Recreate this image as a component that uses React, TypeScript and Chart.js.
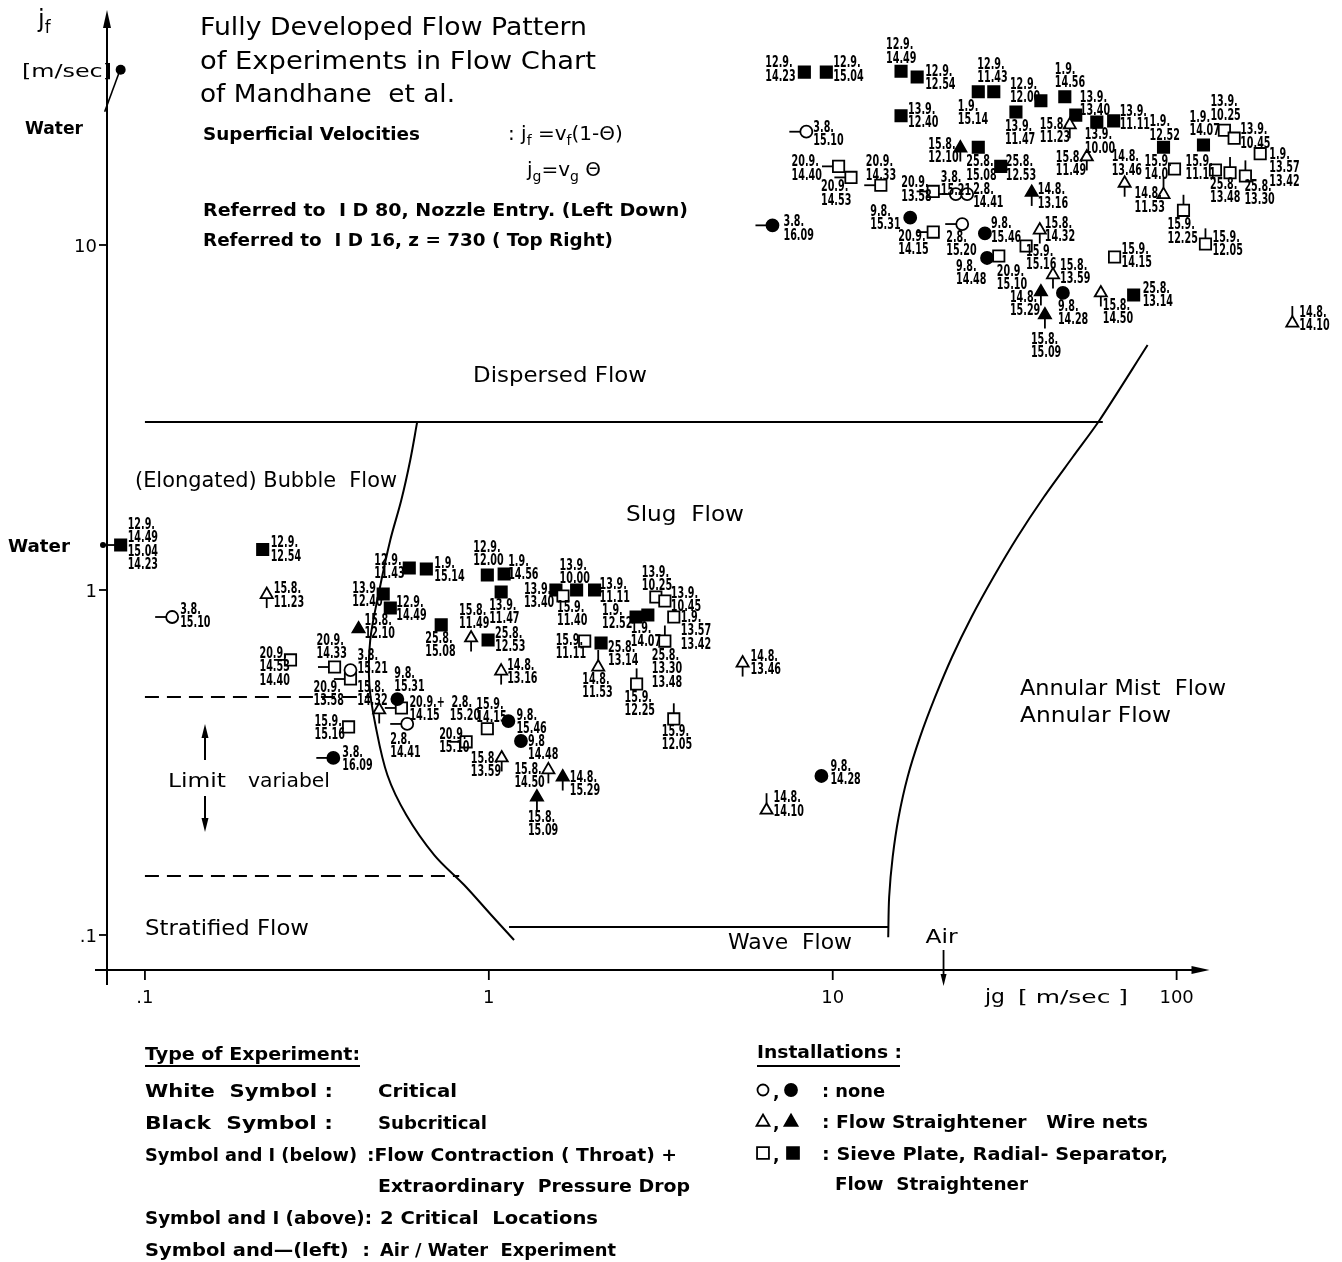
import React, { useEffect, useRef } from 'react';
import { Chart, registerables } from 'chart.js';

Chart.register(...registerables);

// ---------- Lower-left group: ID 80, nozzle entry ----------
const jgLower = [0.085, 0.22, 0.226, 0.12, 0.265, 0.356, 0.396, 0.396, 0.418, 0.48, 0.542, 0.557, 0.579, 0.859, 0.99, 1.14, 1.24, 1.09, 1.49, 1.64, 1.38, 0.353, 0.391, 0.587, 0.658, 0.493, 0.517, 0.727, 0.888, 0.995, 0.99, 1.108, 1.086, 1.086, 1.567, 1.643, 1.8, 2.03, 1.9, 2.12, 2.08, 2.68, 2.9, 3.06, 3.25, 3.45, 3.25, 2.69, 3.45, 5.47, 9.27, 6.42];
const jfLower = [1.35, 1.31, 0.97, 0.835, 0.627, 0.598, 0.586, 0.552, 0.771, 0.449, 0.483, 0.455, 0.409, 0.363, 0.396, 0.417, 0.365, 0.326, 0.301, 0.287, 0.251, 0.326, 0.401, 1.158, 1.15, 0.974, 0.887, 0.792, 0.726, 0.716, 1.105, 1.113, 0.987, 0.582, 1.0, 0.961, 1.0, 1.0, 0.711, 0.702, 0.598, 0.835, 0.846, 0.954, 0.929, 0.835, 0.711, 0.534, 0.423, 0.614, 0.289, 0.23];
const symLower = ['sf', 'sf', 'to', 'co', 'so', 'so', 'co', 'so', 'tf', 'to', 'cf', 'so', 'co', 'so', 'so', 'cf', 'cf', 'to', 'to', 'tf', 'tf', 'cf', 'so', 'sf', 'sf', 'sf', 'sf', 'sf', 'to', 'sf', 'sf', 'sf', 'sf', 'to', 'sf', 'so', 'sf', 'sf', 'so', 'sf', 'to', 'sf', 'sf', 'so', 'so', 'so', 'so', 'so', 'so', 'to', 'cf', 'to'];
const markLower = ['w', '', 'd', 'l', 'l', 'l', '', 'l', '', 'd', '', 'l', 'l', 'l', '', '', '', 'd', 'd', 'd', 'd', 'l', '', '', '', '', '', '', 'd', '', '', '', '', 'd', '', '', '', '', '', '', 'u', '', '', '', '', '', 'u', 'u', 'u', 'd', '', 'u'];
const labelLower = ['12.9.|14.49|15.04|14.23', '12.9.|12.54', '15.8.|11.23', '3.8.|15.10', '20.9.|14.53|14.40', '20.9.|14.33', '3.8.|15.21', '20.9.|13.58', '15.8.|12.10', '15.8.|14.32', '9.8.|15.31', '20.9.+  2.8.|14.15   15.20', '2.8.|14.41', '20.9.|15.10', '15.9.|14.15', '9.8.|15.46', '9.8|14.48', '15.8.|13.59', '15.8.|14.50', '14.8.|15.29', '15.8.|15.09', '3.8.|16.09', '15.9.|15.16', '12.9.|11.43', '1.9.|15.14', '13.9.|12.40', '12.9.|14.49', '25.8.|15.08', '15.8.|11.49', '25.8.|12.53', '12.9.|12.00', '1.9.|14.56', '13.9.|11.47', '14.8.|13.16', '13.9.|13.40', '15.9.|11.40', '13.9.|10.00', '13.9.|11.11', '15.9.|11.11', '25.8.|13.14', '14.8.|11.53', '1.9.|12.52', '1.9.|14.07', '13.9.|10.25', '13.9.|10.45', '1.9.|13.57|13.42', '25.8.|13.30|13.48', '15.9.|12.25', '15.9.|12.05', '14.8.|13.46', '9.8.|14.28', '14.8.|14.10'];

// ---------- Top-right group: ID 16, z = 730 ----------
const jgUpper = [8.27, 9.58, 15.8, 17.6, 15.8, 26.5, 29.4, 34.1, 40.3, 8.38, 23.5, 26.5, 30.8, 10.4, 11.3, 13.8, 19.6, 22.8, 24.6, 37.9, 47.3, 50.9, 48.9, 58.6, 65.6, 54.8, 91.6, 119.7, 137.7, 147, 175, 98.6, 91.6, 129.7, 143, 158.5, 70.6, 104.7, 121.3, 40.0, 66.0, 43.7, 46.7, 40.3, 41.4, 60.2, 75.0, 217, 6.68, 16.8, 19.6, 23.8, 27.7, 28.1, 30.4, 36.5];
const jfUpper = [31.7, 31.7, 31.9, 30.7, 23.7, 27.8, 27.8, 24.3, 26.2, 21.3, 19.1, 19.2, 16.9, 16.9, 15.7, 14.9, 14.3, 14.05, 14.05, 14.2, 26.9, 23.8, 22.3, 22.7, 22.9, 18.0, 19.2, 19.5, 21.5, 20.4, 18.4, 16.6, 14.0, 16.5, 16.2, 15.85, 15.1, 12.6, 10.07, 11.05, 9.23, 8.19, 7.26, 7.31, 6.27, 7.26, 7.16, 5.94, 11.4, 12.0, 10.9, 11.5, 10.8, 9.17, 9.29, 9.93];
const symUpper = ['sf', 'sf', 'sf', 'sf', 'sf', 'sf', 'sf', 'sf', 'sf', 'co', 'tf', 'sf', 'sf', 'so', 'so', 'so', 'so', 'co', 'co', 'tf', 'sf', 'sf', 'to', 'sf', 'sf', 'to', 'sf', 'sf', 'so', 'so', 'so', 'so', 'to', 'so', 'so', 'so', 'to', 'so', 'so', 'to', 'so', 'to', 'cf', 'tf', 'tf', 'to', 'sf', 'to', 'cf', 'cf', 'so', 'co', 'cf', 'cf', 'so', 'so'];
const markUpper = ['', '', '', '', '', '', '', '', '', 'l', 'd', '', '', 'l', 'l', 'l', 'l', 'l', '', 'd', '', '', 'd', '', '', 'd', '', '', '', '', '', '', 'u', '', 'u', 'u', 'd', 'u', 'u', 'd', '', 'd', '', 'd', 'd', 'd', '', 'u', 'l', '', 'l', 'l', '', '', '', ''];
const labelUpper = ['12.9.|14.23', '12.9.|15.04', '12.9.|14.49', '12.9.|12.54', '13.9.|12.40', '12.9.|11.43', '1.9.|15.14', '13.9.|11.47', '12.9.|12.00', '3.8.|15.10', '15.8.|12.10', '25.8.|15.08', '25.8.|12.53', '20.9.|14.40', '20.9.|14.53', '20.9.|14.33', '20.9.|13.58', '3.8.|15.21', '2.8.|14.41', '14.8.|13.16', '1.9.|14.56', '13.9.|13.40', '15.8.|11.23', '13.9.|10.00', '13.9.|11.11', '15.8.|11.49', '1.9.|12.52', '1.9.|14.07', '13.9.|10.25', '13.9.|10.45', '1.9.|13.57|13.42', '15.9.|14.0', '14.8.|11.53', '15.9.|11.11', '25.8.|13.48', '25.8.|13.30', '14.8.|13.46', '15.9.|12.25', '15.9.|12.05', '15.8.|14.32', '15.9.|14.15', '15.8.|13.59', '9.8.|14.28', '14.8.|15.29', '15.8.|15.09', '15.8.|14.50', '25.8.|13.14', '14.8.|14.10', '3.8.|16.09', '9.8.|15.31', '20.9.|14.15', '2.8.|15.20', '9.8.|15.46', '9.8.|14.48', '20.9.|15.10', '15.9.|15.16'];

// "Water" superficial velocity marker of the top-right group
const waterTopJg = 0.085;
const waterTopJf = 32.2;

// ---------- Flow-regime boundaries (Mandhane et al.) ----------
const dispersedX = [0.1, 61];
const dispersedY = [3.07, 3.07];
const bubbleSlugX = [0.619, 0.591, 0.5566, 0.517, 0.4806, 0.452, 0.4495, 0.468, 0.507, 0.5755, 0.694, 0.848, 1.016, 1.184];
const bubbleSlugY = [3.07, 2.382, 1.823, 1.396, 1.0, 0.716, 0.5303, 0.4063, 0.2909, 0.2228, 0.1705, 0.1396, 0.1143, 0.0967];
const waveX = [1.145, 14.5];
const waveY = [0.1055, 0.1055];
const annularX = [14.5, 14.59, 14.94, 15.55, 16.51, 17.95, 19.85, 22.23, 25.33, 29.35, 34.44, 41.11, 49.89, 59.74, 82.34];
const annularY = [0.0985, 0.1288, 0.1683, 0.2198, 0.2871, 0.375, 0.4896, 0.6394, 0.8351, 1.0906, 1.4245, 1.8603, 2.4296, 3.11, 5.13];
const limitUpperX = [0.1, 0.455];
const limitUpperY = [0.4896, 0.4896];
const limitLowerX = [0.1, 0.82];
const limitLowerY = [0.1483, 0.1483];

// ---------- Axis ticks ----------
const xTicks = [0.1, 1, 10, 100];
const xTickLabels = ['.1', '1', '10', '100'];
const yTicks = [0.1, 1, 10];
const yTickLabels = ['.1', '1', '10'];
const airJg = 21;

// ---------- layout (label offsets in px, relative to the symbol) ----------
const offLower: [number, number][] = [[7, -20], [8, -6], [7, -5], [8, -7], [-31, -6], [-18, -26], [7, -14], [-37, 9], [6, -8], [-22, -22], [-3, -25], [8, -5], [-17, 16], [-27, -7], [-11, -24], [8, -5], [7, 1], [-31, 1], [-34, 0], [7, 1], [-9, 21], [9, -5], [-34, -5], [-35, -7], [8, -5], [-31, -5], [6, -5], [-16, 14], [-12, -27], [7, -6], [-14, -27], [4, -12], [-12, 14], [6, -5], [-32, 0], [-6, 12], [-17, -24], [5, -5], [-29, 0], [7, 5], [-16, 13], [-34, -6], [-17, 14], [-14, -24], [6, -7], [7, 1], [-13, 15], [-12, 14], [-12, 13], [8, -6], [9, -9], [7, -12]];
const offUpper: [number, number][] = [[-39, -9], [7, -9], [-15, -26], [8, -5], [7, -6], [-1, -27], [-36, 15], [-11, 15], [-31, -16], [7, -4], [-32, -3], [-12, 15], [5, -4], [-47, -4], [-30, 10], [-15, -23], [-32, -8], [-15, -16], [6, -4], [6, -2], [-10, -27], [4, -17], [-30, 0], [-12, 13], [6, -9], [-31, 1], [-14, -25], [-14, -27], [-14, -28], [6, -8], [9, 1], [-30, -7], [-29, 0], [-30, -8], [-20, 12], [-1, 11], [-13, -26], [-16, 15], [7, -6], [5, -6], [7, -7], [7, -9], [-5, 14], [-31, 6], [-14, 25], [2, 13], [9, -6], [7, -10], [11, -3], [-40, -6], [-35, 5], [-16, 14], [6, -9], [-31, 9], [-2, 16], [0, 6]];

const jg = [...jgLower, ...jgUpper];
const jf = [...jfLower, ...jfUpper];
const symbols = [...symLower, ...symUpper];
const marks = [...markLower, ...markUpper];
const pointLabels = [...labelLower, ...labelUpper];
const labelOffsets = [...offLower, ...offUpper];

const X_MIN = 0.07757, X_MAX = 283.4, Y_MIN = 0.07916, Y_MAX = 47.99;
const X_ARROW = 124.6;

const FONT = "'DejaVu Sans', 'Liberation Sans', sans-serif";
const LABEL_FONT = "bold 15px 'DejaVu Sans', sans-serif";
const LABEL_SX = 0.64;
const LABEL_LH = 13.5;

const SYMS = [
  { key: 'co', style: 'circle', r: 6, fill: false },
  { key: 'cf', style: 'circle', r: 6, fill: true },
  { key: 'to', style: 'triangle', r: 7, fill: false },
  { key: 'tf', style: 'triangle', r: 7, fill: true },
  { key: 'so', style: 'rect', r: 8, fill: false },
  { key: 'sf', style: 'rect', r: 8, fill: true },
];

function txt(ctx: CanvasRenderingContext2D, s: string, x: number, y: number, size: number, w?: number, bold = false, align: 'left' | 'center' | 'right' = 'left') {
  ctx.font = `${bold ? 'bold ' : ''}${size}px ${FONT}`;
  ctx.textAlign = 'left';
  ctx.textBaseline = 'alphabetic';
  const m = ctx.measureText(s).width;
  const sx = w ? w / m : 1;
  const width = m * sx;
  let x0 = x;
  if (align === 'center') x0 = x - width / 2;
  else if (align === 'right') x0 = x - width;
  ctx.save();
  ctx.translate(x0, y);
  ctx.scale(sx, 1);
  ctx.fillText(s, 0, 0);
  ctx.restore();
}

function rich(ctx: CanvasRenderingContext2D, parts: { t: string; sub?: boolean }[], x: number, y: number, size: number, bold = false) {
  let cx = x;
  ctx.textAlign = 'left';
  ctx.textBaseline = 'alphabetic';
  for (const p of parts) {
    const sz = p.sub ? size * 0.7 : size;
    ctx.font = `${bold ? 'bold ' : ''}${sz}px ${FONT}`;
    ctx.fillText(p.t, cx, p.sub ? y + size * 0.25 : y);
    cx += ctx.measureText(p.t).width;
  }
}

function shape(ctx: CanvasRenderingContext2D, kind: string, filled: boolean, x: number, y: number, r: number) {
  ctx.beginPath();
  if (kind === 'c') ctx.arc(x, y, r, 0, Math.PI * 2);
  else if (kind === 't') {
    ctx.moveTo(x, y - r);
    ctx.lineTo(x + r * 0.866, y + r * 0.5);
    ctx.lineTo(x - r * 0.866, y + r * 0.5);
    ctx.closePath();
  } else ctx.rect(x - r * 0.7, y - r * 0.7, r * 1.4, r * 1.4);
  ctx.fillStyle = filled ? '#000' : '#fff';
  ctx.fill();
  ctx.lineWidth = 1.8;
  ctx.strokeStyle = '#000';
  ctx.stroke();
  ctx.fillStyle = '#000';
}

function seg(ctx: CanvasRenderingContext2D, x1: number, y1: number, x2: number, y2: number) {
  ctx.beginPath();
  ctx.moveTo(x1, y1);
  ctx.lineTo(x2, y2);
  ctx.stroke();
}

function head(ctx: CanvasRenderingContext2D, x: number, y: number, dir: 'up' | 'down' | 'right' | 'left', len = 16, wid = 4) {
  ctx.beginPath();
  if (dir === 'up') { ctx.moveTo(x, y); ctx.lineTo(x - wid, y + len); ctx.lineTo(x + wid, y + len); }
  else if (dir === 'down') { ctx.moveTo(x, y); ctx.lineTo(x - wid, y - len); ctx.lineTo(x + wid, y - len); }
  else if (dir === 'right') { ctx.moveTo(x, y); ctx.lineTo(x - len, y - wid); ctx.lineTo(x - len, y + wid); }
  else { ctx.moveTo(x, y); ctx.lineTo(x + len, y - wid); ctx.lineTo(x + len, y + wid); }
  ctx.closePath();
  ctx.fill();
}

const decor = {
  id: 'decor',
  afterDatasetsDraw(chart: any) {
    const ctx: CanvasRenderingContext2D = chart.ctx;
    const xs = chart.scales.x, ys = chart.scales.y;
    const X = (v: number) => xs.getPixelForValue(v);
    const Y = (v: number) => ys.getPixelForValue(v);
    const { left, top, bottom } = chart.chartArea;
    ctx.save();
    ctx.strokeStyle = '#000';
    ctx.fillStyle = '#000';

    // symbol marks: stems and dashes
    ctx.lineWidth = 1.8;
    for (let i = 0; i < jg.length; i++) {
      const px = X(jg[i]), py = Y(jf[i]);
      const k = symbols[i][0];
      const half = k === 's' ? 5.6 : 6;
      const m = marks[i];
      if (m === 'd') { const y0 = py + (k === 't' ? 3.5 : half); seg(ctx, px, y0, px, y0 + 10); }
      else if (m === 'u') { const y0 = py - (k === 't' ? 7 : half); seg(ctx, px, y0, px, y0 - 10); }
      else if (m === 'l') seg(ctx, px - half, py, px - half - 11, py);
      else if (m === 'w') {
        seg(ctx, px - half, py, left - 4, py);
        ctx.beginPath(); ctx.arc(left - 4, py, 3, 0, Math.PI * 2); ctx.fill();
      }
    }

    // point labels (condensed)
    ctx.font = LABEL_FONT;
    ctx.textBaseline = 'middle';
    ctx.textAlign = 'left';
    for (let i = 0; i < jg.length; i++) {
      const px = X(jg[i]), py = Y(jf[i]);
      const [dx, dy] = labelOffsets[i];
      pointLabels[i].split('|').forEach((l, k) => {
        ctx.save();
        ctx.translate(px + dx, py + dy + k * LABEL_LH);
        ctx.scale(LABEL_SX, 1);
        ctx.fillText(l, 0, 0);
        ctx.restore();
      });
    }

    // water marker (top)
    const wx = X(waterTopJg), wy = Y(waterTopJf);
    ctx.lineWidth = 1.6;
    seg(ctx, wx - 2, wy + 4, wx - 16, wy + 42);
    ctx.beginPath(); ctx.arc(wx, wy, 5, 0, Math.PI * 2); ctx.fill();

    // axes
    ctx.lineWidth = 2;
    seg(ctx, left, top + 6, left, bottom + 15);
    head(ctx, left, top, 'up', 18, 4);
    const xEnd = X(X_ARROW);
    seg(ctx, left - 12, bottom, xEnd - 6, bottom);
    head(ctx, xEnd, bottom, 'right', 18, 4);
    ctx.lineWidth = 1.8;
    xTicks.forEach((t, i) => {
      const p = X(t);
      seg(ctx, p, bottom, p, bottom + 10);
      txt(ctx, xTickLabels[i], p, bottom + 33, 18, undefined, false, 'center');
    });
    yTicks.forEach((t, i) => {
      const p = Y(t);
      seg(ctx, left - 8, p, left, p);
      txt(ctx, yTickLabels[i], left - 10, p + 7, 18, undefined, false, 'right');
    });
    // Air arrow
    const ax = X(airJg);
    seg(ctx, ax, bottom - 20, ax, bottom + 8);
    head(ctx, ax, bottom + 16, 'down', 12, 3);
    txt(ctx, 'Air', ax - 18, bottom - 27, 19, 32);

    // axis titles
    rich(ctx, [{ t: 'j' }, { t: 'f', sub: true }], 38, 27, 24);
    txt(ctx, '[m/sec]', 22, 77, 17, 90);
    txt(ctx, 'Water', 25, 134, 17, 58, true);
    txt(ctx, 'Water', 8, 552, 17, 62, true);
    txt(ctx, 'jg', 985, 1003, 20, 20);
    txt(ctx, '[ m/sec ]', 1018, 1003, 18, 110);

    // title block
    txt(ctx, 'Fully Developed Flow Pattern', 200, 35, 24, 387);
    txt(ctx, 'of Experiments in Flow Chart', 200, 69, 24, 396);
    txt(ctx, 'of Mandhane  et al.', 200, 102, 24, 255);
    txt(ctx, 'Superficial Velocities', 203, 140, 17, 217, true);
    rich(ctx, [{ t: ': j' }, { t: 'f', sub: true }, { t: ' =v' }, { t: 'f', sub: true }, { t: '(1-\u0398)' }], 508, 140, 20);
    rich(ctx, [{ t: 'j' }, { t: 'g', sub: true }, { t: '=v' }, { t: 'g', sub: true }, { t: ' \u0398' }], 527, 176, 20);
    txt(ctx, 'Referred to  I D 80, Nozzle Entry. (Left Down)', 203, 216, 17, 485, true);
    txt(ctx, 'Referred to  I D 16, z = 730 ( Top Right)', 203, 246, 17, 410, true);

    // regime names
    txt(ctx, 'Dispersed Flow', 473, 382, 21, 174);
    txt(ctx, '(Elongated) Bubble  Flow', 135, 487, 21, 262);
    txt(ctx, 'Slug  Flow', 626, 521, 21, 118);
    txt(ctx, 'Annular Mist  Flow', 1020, 695, 21, 206);
    txt(ctx, 'Annular Flow', 1020, 722, 21, 151);
    txt(ctx, 'Stratified Flow', 145, 935, 21, 164);
    txt(ctx, 'Wave  Flow', 728, 949, 21, 124);
    txt(ctx, 'Limit', 168, 787, 20, 58);
    txt(ctx, 'variabel', 248, 787, 20, 82);
    ctx.lineWidth = 2;
    seg(ctx, 205, 760, 205, 736); head(ctx, 205, 724, 'up', 14, 3.5);
    seg(ctx, 205, 796, 205, 820); head(ctx, 205, 832, 'down', 14, 3.5);

    // legend: type of experiment
    txt(ctx, 'Type of Experiment:', 145, 1060, 18, 215, true);
    ctx.lineWidth = 2; seg(ctx, 145, 1066, 360, 1066);
    const rows = [1097, 1129, 1161, 1192, 1224, 1256];
    txt(ctx, 'White  Symbol :', 145, rows[0], 17, 188, true);
    txt(ctx, 'Critical', 378, rows[0], 17, 79, true);
    txt(ctx, 'Black  Symbol :', 145, rows[1], 17, 188, true);
    txt(ctx, 'Subcritical', 378, rows[1], 17, 109, true);
    txt(ctx, 'Symbol and I (below)', 145, rows[2], 17, 212, true);
    txt(ctx, ':Flow Contraction ( Throat) +', 367, rows[2], 17, 310, true);
    txt(ctx, 'Extraordinary  Pressure Drop', 378, rows[3], 17, 312, true);
    txt(ctx, 'Symbol and I (above):', 145, rows[4], 17, 227, true);
    txt(ctx, '2 Critical  Locations', 380, rows[4], 17, 218, true);
    txt(ctx, 'Symbol and\u2014(left)  :', 145, rows[5], 17, 225, true);
    txt(ctx, 'Air / Water  Experiment', 380, rows[5], 17, 236, true);

    // legend: installations
    txt(ctx, 'Installations :', 757, 1058, 18, 145, true);
    ctx.lineWidth = 2; seg(ctx, 757, 1066, 900, 1066);
    const irows = [1090, 1121, 1153, 1183];
    shape(ctx, 'c', false, 763, irows[0], 5.5);
    shape(ctx, 'c', true, 791, irows[0], 6);
    shape(ctx, 't', false, 763, irows[1] + 1, 7.5);
    shape(ctx, 't', true, 791, irows[1] + 1, 7.5);
    shape(ctx, 's', false, 763, irows[2], 8.5);
    shape(ctx, 's', true, 793, irows[2], 8.5);
    for (let r = 0; r < 3; r++) txt(ctx, ',', 773, irows[r] + 8, 17, undefined, true);
    txt(ctx, ': none', 822, irows[0] + 7, 17, 63, true);
    txt(ctx, ': Flow Straightener   Wire nets', 822, irows[1] + 7, 17, 326, true);
    txt(ctx, ': Sieve Plate, Radial- Separator,', 822, irows[2] + 7, 17, 346, true);
    txt(ctx, 'Flow  Straightener', 835, irows[3] + 7, 17, 193, true);

    ctx.restore();
  },
};

function lineSet(xv: number[], yv: number[], dash: number[] = [], tension = 0) {
  return {
    type: 'line' as const,
    data: xv.map((x, i) => ({ x, y: yv[i] })),
    borderColor: '#000',
    borderWidth: 2,
    borderDash: dash,
    pointRadius: 0,
    tension,
    fill: false,
    clip: false as any,
  };
}

export default function App() {
  const ref = useRef<HTMLCanvasElement>(null);
  useEffect(() => {
    if (!ref.current) return;
    const pointSets = SYMS.map((s) => ({
      type: 'scatter' as const,
      label: s.key,
      data: jg.map((x, i) => ({ x, y: jf[i], i })).filter((d) => symbols[d.i] === s.key),
      pointStyle: s.style,
      pointRadius: s.r,
      backgroundColor: s.fill ? '#000' : '#fff',
      borderColor: '#000',
      borderWidth: 1.8,
      clip: false as any,
    }));
    const chart = new Chart(ref.current, {
      type: 'scatter',
      data: {
        datasets: [
          lineSet(dispersedX, dispersedY),
          lineSet(bubbleSlugX, bubbleSlugY, [], 0.35),
          lineSet(waveX, waveY),
          lineSet(annularX, annularY, [], 0.3),
          lineSet(limitUpperX, limitUpperY, [14, 8]),
          lineSet(limitLowerX, limitLowerY, [14, 8]),
          ...pointSets,
        ] as any,
      },
      options: {
        responsive: false,
        animation: false,
        devicePixelRatio: 1,
        events: [],
        layout: { padding: { left: 107, right: 7, top: 10, bottom: 292 } },
        scales: {
          x: { type: 'logarithmic', min: X_MIN, max: X_MAX, display: false },
          y: { type: 'logarithmic', min: Y_MIN, max: Y_MAX, display: false },
        },
        plugins: { legend: { display: false }, tooltip: { enabled: false } },
      } as any,
      plugins: [decor],
    });
    return () => chart.destroy();
  }, []);
  return (
    <div style={{ position: 'absolute', left: 0, top: 0, width: 1342, height: 1262, background: '#fff' }}>
      <canvas ref={ref} width={1342} height={1262} style={{ display: 'block', width: 1342, height: 1262 }} />
    </div>
  );
}
